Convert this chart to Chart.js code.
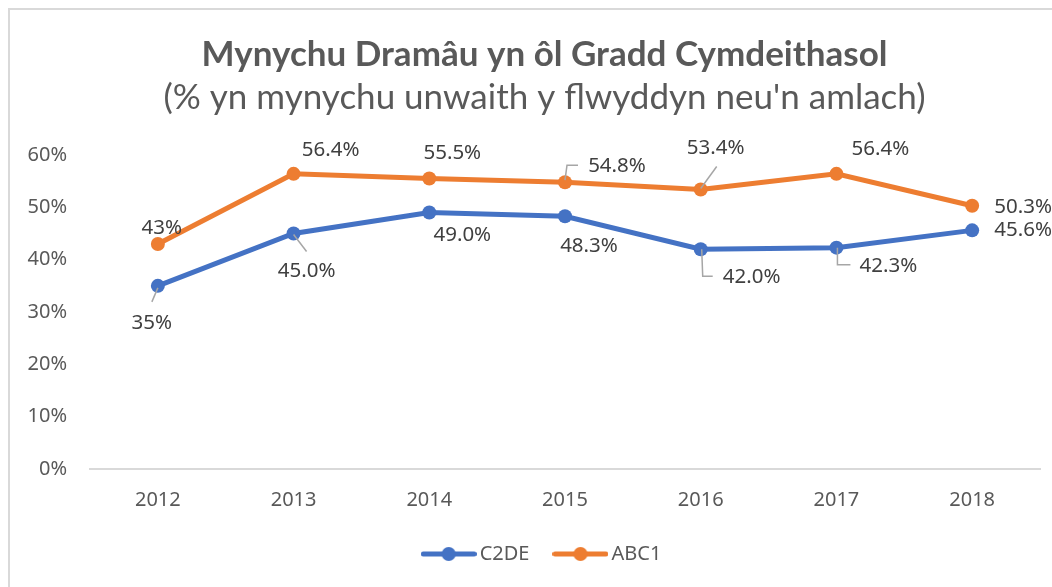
<!DOCTYPE html>
<html>
<head>
<meta charset="utf-8">
<script src="https://cdn.jsdelivr.net/npm/chart.js@4.4.1/dist/chart.umd.min.js"></script>
<style>
  html, body { margin: 0; padding: 0; background: #ffffff; overflow: hidden; width: 1052px; height: 587px; }
  #frame { position: absolute; left: 8px; top: 8px; width: 1200px; height: 800px; border: 2px solid #d9d9d9; box-sizing: border-box; }
  #c { position: absolute; left: 0; top: 0; }
</style>
</head>
<body>
<div id="frame"></div>
<canvas id="c" width="1052" height="587"></canvas>
<script>
// ---- data ----
const years = ['2012', '2013', '2014', '2015', '2016', '2017', '2018'];
const seriesNames = ['C2DE', 'ABC1'];
const c2de = [35, 45.0, 49.0, 48.3, 42.0, 42.3, 45.6];
const abc1 = [43, 56.4, 55.5, 54.8, 53.4, 56.4, 50.3];
const c2deLabels = ['35%', '45.0%', '49.0%', '48.3%', '42.0%', '42.3%', '45.6%'];
const abc1Labels = ['43%', '56.4%', '55.5%', '54.8%', '53.4%', '56.4%', '50.3%'];
const yTicks = [0, 10, 20, 30, 40, 50, 60];
const titleText = 'Mynychu Dramâu yn ôl Gradd Cymdeithasol';
const subtitleText = "(% yn mynychu unwaith y flwyddyn neu'n amlach)";

// ---- styles ----
const BLUE = '#4472C4';
const ORANGE = '#ED7D31';
const TEXT = '#595959';
const LABEL = '#404040';

// label placement (pixel offsets from each point) and leader lines
const labelOffsets = [
  [[-6, 37], [13, 38], [33, 23], [24, 30], [51, 28], [52, 19], [51, 0]],
  [[4, -16], [37, -24], [23, -25], [52, -16], [15, -41], [44, -25], [51, 1]]
];
const leaders = [
  { 0: [[0, 2], [-6, 16]], 1: [[0, 1], [13, 18]], 4: [[1, 0], [2, 27], [12, 27]], 5: [[1, 0], [1, 17], [14, 17]] },
  { 3: [[0, -2], [2, -17], [13, -17]], 4: [[0, -1], [16, -23]] }
];
const labelTexts = [c2deLabels, abc1Labels];

function legendIcon(color) {
  const cv = document.createElement('canvas');
  cv.width = 56; cv.height = 16;
  const g = cv.getContext('2d');
  g.strokeStyle = color; g.lineWidth = 5; g.lineCap = 'round';
  g.beginPath(); g.moveTo(2.5, 8); g.lineTo(53.5, 8); g.stroke();
  g.fillStyle = color;
  g.beginPath(); g.arc(28, 8, 7, 0, Math.PI * 2); g.fill();
  return cv;
}
const icons = [legendIcon(BLUE), legendIcon(ORANGE)];

const dataLabelPlugin = {
  id: 'dataLabelPlugin',
  afterDatasetsDraw(chart) {
    const ctx = chart.ctx;
    ctx.save();
    chart.data.datasets.forEach((ds, di) => {
      const meta = chart.getDatasetMeta(di);
      meta.data.forEach((pt, i) => {
        const lead = leaders[di][i];
        if (lead) {
          ctx.strokeStyle = '#a6a6a6';
          ctx.lineWidth = 1.5;
          ctx.beginPath();
          lead.forEach((p, k) => {
            if (k === 0) ctx.moveTo(pt.x + p[0], pt.y + p[1]);
            else ctx.lineTo(pt.x + p[0], pt.y + p[1]);
          });
          ctx.stroke();
        }
        const off = labelOffsets[di][i];
        ctx.fillStyle = LABEL;
        ctx.font = '20.5px "Noto Sans"';
        ctx.textAlign = 'center';
        ctx.textBaseline = 'middle';
        ctx.fillText(labelTexts[di][i], pt.x + off[0], pt.y + off[1]);
      });
    });
    ctx.restore();
  }
};

new Chart(document.getElementById('c'), {
  type: 'line',
  data: {
    labels: years,
    datasets: [
      { label: seriesNames[0], data: c2de, borderColor: BLUE, backgroundColor: BLUE,
        borderWidth: 5, pointRadius: 7, pointHoverRadius: 7, pointBorderWidth: 0, tension: 0 },
      { label: seriesNames[1], data: abc1, borderColor: ORANGE, backgroundColor: ORANGE,
        borderWidth: 5, pointRadius: 7, pointHoverRadius: 7, pointBorderWidth: 0, tension: 0 }
    ]
  },
  options: {
    responsive: false,
    animation: false,
    devicePixelRatio: 1,
    layout: { padding: { left: 49, right: 12, top: 0, bottom: 13 } },
    plugins: {
      tooltip: { enabled: false },
      title: {
        display: true, text: titleText, color: TEXT,
        font: { family: 'Lato', size: 35, weight: 'bold', lineHeight: 1.2 },
        padding: { top: 34, bottom: 0 }
      },
      subtitle: {
        display: true, text: subtitleText, color: TEXT,
        font: { family: 'Lato', size: 35, weight: 'normal', lineHeight: 1.2 },
        padding: { top: 1, bottom: 36 }
      },
      legend: {
        position: 'bottom',
        labels: {
          color: TEXT,
          font: { family: 'Noto Sans', size: 20 },
          usePointStyle: true,
          pointStyleWidth: 42,
          padding: 30,
          generateLabels(chart) {
            const items = Chart.defaults.plugins.legend.labels.generateLabels(chart);
            items.forEach((it, i) => { it.pointStyle = icons[i]; });
            return items;
          }
        }
      }
    },
    scales: {
      x: {
        offset: true,
        grid: { display: false, drawTicks: false },
        border: { display: true, color: '#d9d9d9', width: 2 },
        ticks: { color: TEXT, font: { family: 'Noto Sans', size: 20 }, padding: 19 },
        afterFit(scale) { scale.height = 45; }
      },
      y: {
        min: 0, max: 60,
        grid: { display: false, drawTicks: false },
        border: { display: false },
        afterBuildTicks(scale) { scale.ticks = yTicks.map(v => ({ value: v })); },
        ticks: { color: TEXT, font: { family: 'Noto Sans', size: 20 }, padding: 23,
                 callback: (v) => v + '%' },
        afterFit(scale) {
          scale.width = 41;
          scale._computeLabelArea = () => undefined; // let tick labels extend into the left padding
        }
      }
    }
  },
  plugins: [dataLabelPlugin]
});
</script>
</body>
</html>
